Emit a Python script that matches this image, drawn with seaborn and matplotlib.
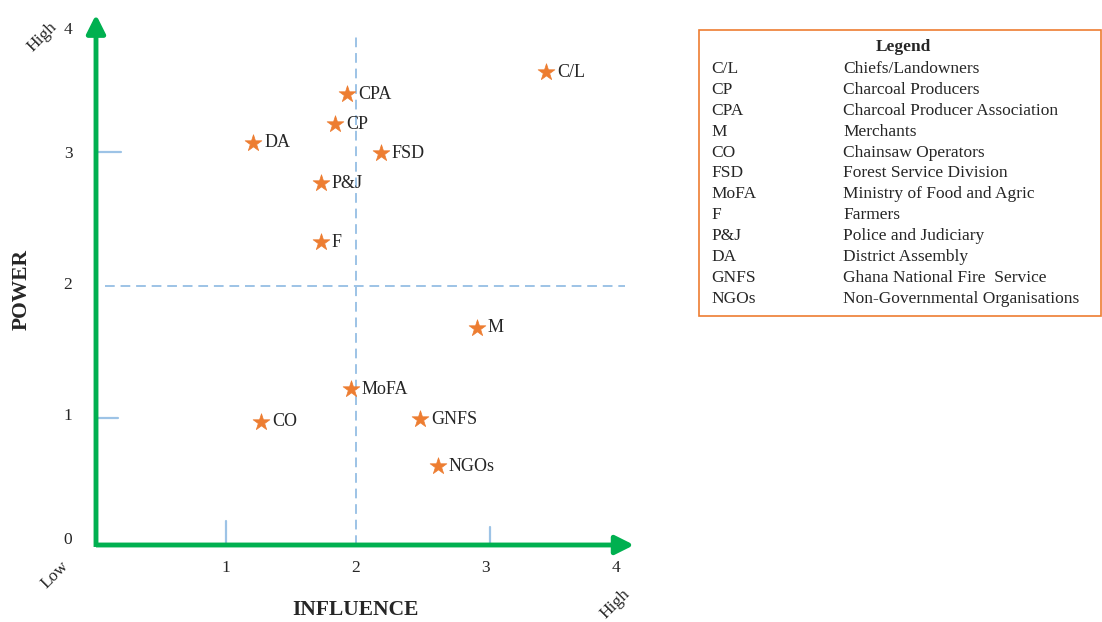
import matplotlib
matplotlib.use("Agg")
import matplotlib.pyplot as plt
import matplotlib.patches as mpatches
import matplotlib.transforms as mtrans
import seaborn as sns
import pandas as pd

# stakeholder positions
codes = ["C/L", "CPA", "CP", "DA", "FSD", "P&J", "F", "M", "MoFA", "CO", "GNFS", "NGOs"]
influence = [3.46, 1.93, 1.84, 1.21, 2.19, 1.73, 1.73, 2.93, 1.96, 1.27, 2.49, 2.63]
power = [3.61, 3.44, 3.21, 3.07, 2.99, 2.76, 2.31, 1.66, 1.19, 0.94, 0.96, 0.60]

legend_codes = ["C/L", "CP", "CPA", "M", "CO", "FSD", "MoFA", "F", "P&J", "DA", "GNFS", "NGOs"]
legend_names = ["Chiefs/Landowners", "Charcoal Producers", "Charcoal Producer Association",
                "Merchants", "Chainsaw Operators", "Forest Service Division",
                "Ministry of Food and Agric", "Farmers", "Police and Judiciary",
                "District Assembly", "Ghana National Fire  Service", "Non-Governmental Organisations"]

x_ticks = [1, 2, 3, 4]
y_ticks = [0, 1, 2, 3, 4]

sns.set_style("white")
plt.rcParams["font.family"] = ["Liberation Serif", "DejaVu Serif"]

GREEN = "#00B050"
ORANGE = "#ED7D31"
BLUE = "#9DC3E6"

W, H = 1102, 622
fig = plt.figure(figsize=(W / 100, H / 100), dpi=100)


def px(x, y):
    return x / W, 1 - y / H


ax = fig.add_axes([96 / W, 77 / H, 540 / W, 537 / H])
ax.set_xlim(0, 540 / 130)
ax.set_ylim(0, 537 / 131)
for s in ax.spines.values():
    s.set_visible(False)

df = pd.DataFrame({"code": codes, "influence": influence, "power": power})
sns.scatterplot(data=df, x="influence", y="power", marker="*", s=160,
                color=ORANGE, edgecolor=ORANGE, linewidth=0.5, ax=ax, zorder=5)
for _, r in df.iterrows():
    ax.annotate(r["code"], (r["influence"], r["power"]), xytext=(8, 0),
                textcoords="offset points", va="center", ha="left", fontsize=13)

# quadrant dividers
ax.plot([2, 2], [0, 3.9], ls=(0, (5, 3)), color=BLUE, lw=1.4, zorder=1)
ax.plot([0.07, 4.07], [1.98, 1.98], ls=(0, (5, 3)), color=BLUE, lw=1.4, zorder=1)

# small marks on the axes
ax.plot([0, 0.19], [3, 3], color=BLUE, lw=1.6, clip_on=False)
ax.plot([0, 0.17], [0.97, 0.97], color=BLUE, lw=1.6, clip_on=False)
ax.plot([1.0, 1.0], [0, 0.18], color=BLUE, lw=1.6, clip_on=False)
ax.plot([3.03, 3.03], [0, 0.14], color=BLUE, lw=1.6, clip_on=False)

# green axes with arrows
ax.annotate("", xy=(4.14, 0), xytext=(0, 0),
            arrowprops=dict(arrowstyle="-|>", color=GREEN, lw=3.5, mutation_scale=28,
                            shrinkA=0, shrinkB=0, capstyle="butt"), annotation_clip=False)
ax.annotate("", xy=(0, 4.05), xytext=(0, -0.015),
            arrowprops=dict(arrowstyle="-|>", color=GREEN, lw=3.5, mutation_scale=28,
                            shrinkA=0, shrinkB=0, capstyle="butt"), annotation_clip=False)

ax.set_xticks(x_ticks)
ax.set_xticklabels([str(t) for t in x_ticks], fontsize=12.5)
ax.set_yticks(y_ticks)
ax.set_yticklabels([str(t) for t in y_ticks], fontsize=12.5)
ax.tick_params(axis="x", length=0, pad=11)
ax.tick_params(axis="y", length=0, pad=17)
ax.set_xlabel("")
ax.set_ylabel("")

# nudge the end labels like in the original (0 sits a bit high, 4 a bit low)
ylabs = ax.get_yticklabels()
for lab, dy in [(ylabs[0], 7), (ylabs[-1], -7)]:
    lab.set_transform(lab.get_transform() + mtrans.ScaledTranslation(0, dy / 100, fig.dpi_scale_trans))

fig.text(*px(355, 610), "INFLUENCE", fontsize=15.5, fontweight="bold", ha="center", va="center")
fig.text(*px(22, 290), "POWER", fontsize=15.5, fontweight="bold", ha="center", va="center", rotation=90)
fig.text(*px(42, 37), "High", fontsize=12.5, ha="center", va="center", rotation=45)
fig.text(*px(55, 575), "Low", fontsize=12.5, ha="center", va="center", rotation=45)
fig.text(*px(615, 604), "High", fontsize=12.5, ha="center", va="center", rotation=45)

# legend box
x0, y0 = px(699, 316)
x1, y1 = px(1101, 30)
fig.patches.append(mpatches.Rectangle((x0, y0), x1 - x0, y1 - y0, transform=fig.transFigure,
                                      fill=False, edgecolor=ORANGE, lw=1.2))
fig.text(*px(903, 47), "Legend", fontsize=12.5, fontweight="bold", ha="center", va="center")
for i, (c, n) in enumerate(zip(legend_codes, legend_names)):
    yy = 69 + i * 20.9
    fig.text(*px(711, yy), c, fontsize=12.5, ha="left", va="center")
    fig.text(*px(843, yy), n, fontsize=12.5, ha="left", va="center")

fig.savefig("out.png", dpi=100)
